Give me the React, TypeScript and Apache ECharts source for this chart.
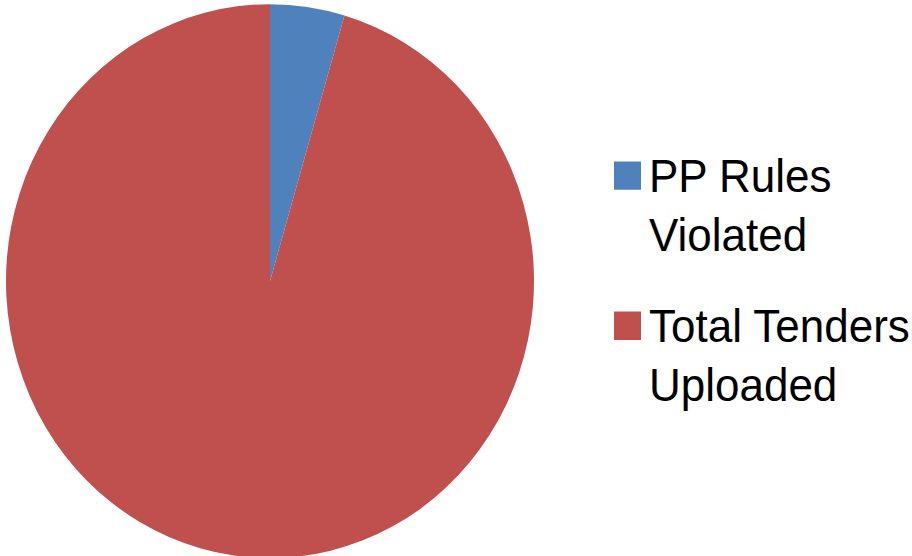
import React, { useEffect, useRef } from "react";
import * as echarts from "echarts";

const categories = ["PP Rules\nViolated", "Total Tenders\nUploaded"];
const values = [45, 944];
const colors = ["#4F81BD", "#C0504D"];

const STRETCH = 1.049;

export default function App() {
  const ref = useRef<HTMLDivElement>(null);
  useEffect(() => {
    if (!ref.current) return;
    const chart = echarts.init(ref.current, undefined, { renderer: "svg" });
    chart.setOption({
      animation: false,
      backgroundColor: "#ffffff",
      legend: {
        orient: "vertical",
        left: 614,
        top: 139,
        padding: 0,
        itemGap: 29,
        itemWidth: 27,
        itemHeight: 84,
        icon: "path://M0,0h27v27h-27zM0,84",
        selectedMode: false,
        textStyle: {
          fontFamily: "Liberation Sans",
          fontSize: 44,
          lineHeight: 57,
          color: "#000000",
          padding: [0, 0, 0, 3],
        },
        data: categories,
      },
      series: [
        {
          type: "pie",
          center: [270, 268],
          radius: 264,
          startAngle: 90,
          clockwise: true,
          label: { show: false },
          labelLine: { show: false },
          emphasis: { disabled: true },
          itemStyle: { borderWidth: 0 },
          data: categories.map((name, i) => ({
            name,
            value: values[i],
            itemStyle: { color: colors[i] },
          })),
        },
      ],
    });
    return () => chart.dispose();
  }, []);
  return (
    <div
      ref={ref}
      style={{
        position: "absolute",
        left: 0,
        top: 0,
        width: 912,
        height: Math.round(556 / STRETCH),
        transform: `scaleY(${STRETCH})`,
        transformOrigin: "0 0",
      }}
    />
  );
}
